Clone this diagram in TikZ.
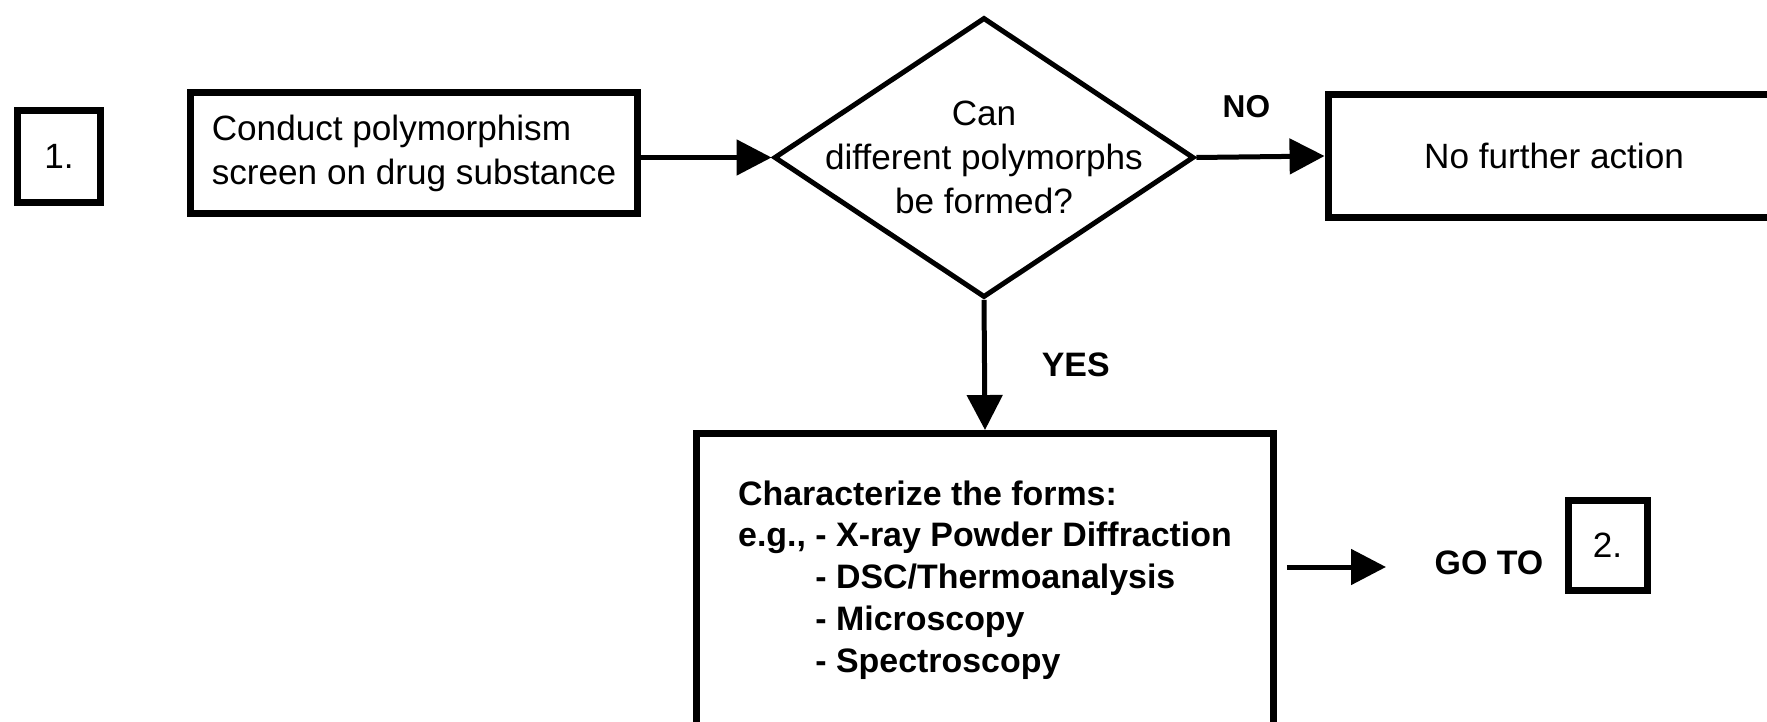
\documentclass[tikz,border=0pt]{standalone}
\usepackage{fontspec}
\setmainfont{Liberation Sans}
\usetikzlibrary{shapes.geometric,arrows.meta,positioning}

\begin{document}
\begin{tikzpicture}[
  x=0.02cm, y=-0.02cm,
  every node/.style={font=\fontsize{20}{25}\selectfont},
  stepbox/.style={draw, line width=0.14cm, align=left, inner sep=0pt},
  numbox/.style={draw, line width=0.14cm, inner sep=0pt,
    minimum width=1.68cm, minimum height=1.86cm},
  question/.style={draw, diamond, line width=0.1cm, inner sep=0pt,
    minimum width=8.4cm, minimum height=5.6cm},
  answer/.style={font=\fontsize{19.3}{23.8}\selectfont\bfseries},
  flow/.style={line width=0.1cm, -{Triangle[length=0.7cm, width=0.7cm]}},
]
\path[use as bounding box] (0,0) rectangle (1767,722);
\clip (0,0) rectangle (1767,722);

% step 1
\node[numbox] (one) at (59,156.5) {1.};
\node[stepbox, minimum width=8.96cm, minimum height=2.44cm] (screen) at (414,153)
  {Conduct polymorphism\\screen on drug substance};
\node[question] (q) at (984,157.5) {};
\node[align=center] (qtext) at (q) {Can\\different polymorphs\\be formed?};
\node[stepbox, minimum width=9.04cm, minimum height=2.48cm] (further) at (1554,156)
  {No further action};
\node[stepbox, answer, minimum width=11.54cm, minimum height=5.86cm] (forms) at (985,580)
  {Characterize the forms:\\
   e.g., - X-ray Powder Diffraction\\
   \phantom{e.g., }- DSC/Thermoanalysis\\
   \phantom{e.g., }- Microscopy\\
   \phantom{e.g., }- Spectroscopy};

% connectors
\draw[flow] (screen.east |- q.west) -- (q.west);
\draw[flow] (q.east) -- node[answer, font=\fontsize{18}{22}\selectfont\bfseries,
  pos=0.39, above=0.62cm] (no) {NO} (further.west);
\draw[flow] (q.south) -- node[answer, right=0.98cm] (yes) {YES} (forms.north);

% go to step 2
\coordinate (goend) at (1386,567);
\draw[flow, shorten <=0.2cm] (forms.east |- goend) -- (goend);
\node[answer] (goto) at (1489,563) {GO TO};
\node[numbox, minimum width=1.58cm, minimum height=1.82cm] (two) at (1607.5,545.5) {2.};
\end{tikzpicture}
\end{document}
